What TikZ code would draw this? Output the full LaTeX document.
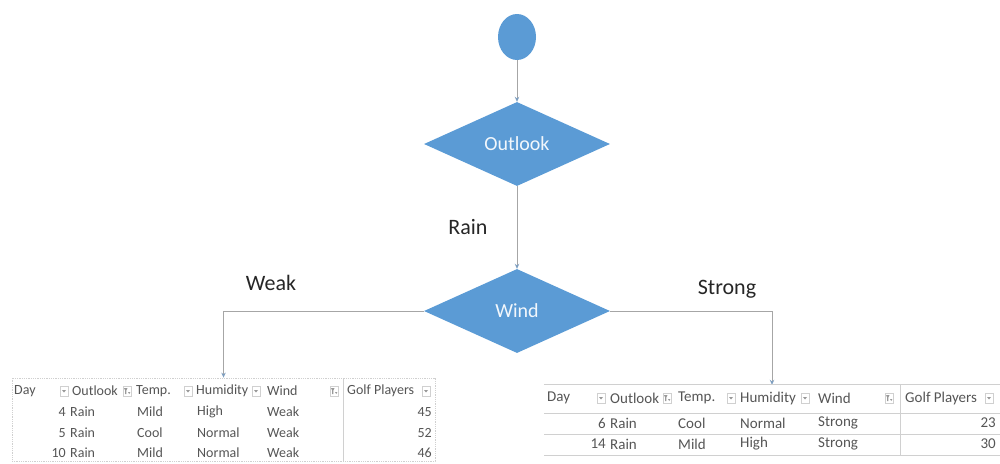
\documentclass[tikz,border=0pt]{standalone}
\usepackage{fontspec}
\setmainfont{Carlito}
\usetikzlibrary{shapes.geometric,arrows.meta}
\definecolor{officeblue}{HTML}{5B9BD5}
\definecolor{connc}{HTML}{A6A6A6}
\definecolor{tipc}{HTML}{7F9FC0}
\definecolor{tabtxt}{HTML}{555555}
\definecolor{tabline}{HTML}{D0D0D0}
\begin{document}
\begin{tikzpicture}[x=1pt,y=-1pt,
  decision/.style={diamond, fill=officeblue, draw=none, minimum width=186pt, minimum height=84pt, inner sep=0pt, text=white!92!officeblue, font=\fontsize{20}{24}\selectfont},
  startnode/.style={ellipse, fill=officeblue, draw=none, minimum width=38pt, minimum height=46pt, inner sep=0pt},
  conn/.style={draw=connc, line width=0.8pt, -{Stealth[length=5pt,width=4.5pt,color=tipc]}},
  edgelabel/.style={text=black!85, inner sep=0pt, font=\fontsize{22}{26}\selectfont},
  lcell/.style={anchor=west, inner sep=0pt, text=tabtxt, font=\fontsize{14}{16}\selectfont},
  rcell/.style={anchor=east, inner sep=0pt, text=tabtxt, font=\fontsize{14}{16}\selectfont},
  lcellR/.style={anchor=west, inner sep=0pt, text=tabtxt, font=\fontsize{15}{17}\selectfont},
  rcellR/.style={anchor=east, inner sep=0pt, text=tabtxt, font=\fontsize{15}{17}\selectfont},
  tabframe/.style={draw=tabline, densely dotted, line width=0.8pt, inner sep=0pt},
  tabrule/.style={draw=tabline, line width=0.8pt},
  ddbtn/.pic={\draw[tabline, fill=white, line width=0.5pt] (-4,-5) rectangle (4,5);
              \fill[gray!80] (-2,-1) -- (2,-1) -- (0,1.5) -- cycle;},
  filterbtn/.pic={\draw[tabline, fill=white, line width=0.5pt] (-4,-5) rectangle (4,5);
              \fill[gray!80] (-3,-3) -- (0.5,-3) -- (-0.7,-0.5) -- (-0.7,3) -- (-1.8,3) -- (-1.8,-0.5) -- cycle;
              \fill[gray!80] (1,1) -- (3.4,1) -- (2.2,3) -- cycle;}
]
\useasboundingbox (0,0) rectangle (1000,463);

% flowchart
\node[startnode] (start) at (517,37) {};
\node[decision] (outlook) at (517,144) {Outlook};
\node[decision] (wind) at (517,311) {Wind};

% tables (frames)
\node[tabframe, minimum width=423pt, minimum height=83pt] (lefttab) at (223.5,419.5) {};
\node[draw=none, inner sep=0pt, minimum width=456pt, minimum height=70pt] (righttab) at (772,420) {};

% connectors
\draw[conn] (start.south) -- (outlook.north);
\draw[conn] (outlook.south) -- (wind.north);
\draw[conn] (wind.west) -| (lefttab.north);
\draw[conn] (wind.east) -| (righttab.north);

% edge labels
\node[edgelabel] (lrain) at (468,227) {Rain};
\node[edgelabel] (lweak) at (271,283) {Weak};
\node[edgelabel] (lstrong) at (727,289) {Strong};

% ---------- left table ----------
\draw[tabrule] (343,378) -- (343,461);
\node[lcell] (lh1) at (14,391) {Day};
\node[lcell] (lh2) at (72,391) {Outlook};
\node[lcell] (lh3) at (136,391) {Temp.};
\node[lcell] (lh4) at (196,391) {Humidity};
\node[lcell] (lh5) at (267,391) {Wind};
\node[lcell] (lh6) at (347,391) {Golf Players};
\pic at (64,391) {ddbtn};
\pic at (127,391) {filterbtn};
\pic at (188,391) {ddbtn};
\pic at (256,391) {ddbtn};
\pic at (334,391) {filterbtn};
\pic at (426,391) {ddbtn};
\foreach \yy/\d/\t/\h/\w/\g [count=\i] in
  {412/4/Mild/High/Weak/45, 433/5/Cool/Normal/Weak/52, 453/10/Mild/Normal/Weak/46}{
  \node[rcell] (ld\i) at (66,\yy) {\d};
  \node[lcell] (lo\i) at (70,\yy) {Rain};
  \node[lcell] (lt\i) at (137,\yy) {\t};
  \node[lcell] (lu\i) at (197,\yy) {\h};
  \node[lcell] (lw\i) at (267,\yy) {\w};
  \node[rcell] (lg\i) at (432,\yy) {\g};
}

% ---------- right table ----------
\draw[tabrule] (righttab.north west) -- (righttab.north east);
\draw[tabrule] (544,413) -- (1000,413);
\draw[tabrule] (544,434) -- (1000,434);
\draw[tabrule] (544,455) -- (1000,455);
\draw[tabrule] (900,385) -- (900,455);
\node[lcellR] (rh1) at (547,398) {Day};
\node[lcellR] (rh2) at (610,398) {Outlook};
\node[lcellR] (rh3) at (678,398) {Temp.};
\node[lcellR] (rh4) at (740,398) {Humidity};
\node[lcellR] (rh5) at (818,398) {Wind};
\node[lcellR] (rh6) at (905,398) {Golf Players};
\pic at (601,398) {ddbtn};
\pic at (667,398) {filterbtn};
\pic at (731,398) {ddbtn};
\pic at (805,398) {ddbtn};
\pic at (889,398) {filterbtn};
\pic at (989,398) {ddbtn};
\foreach \yy/\d/\t/\h/\w/\g [count=\i] in
  {423/6/Cool/Normal/Strong/23, 444/14/Mild/High/Strong/30}{
  \node[rcellR] (rd\i) at (606,\yy) {\d};
  \node[lcellR] (ro\i) at (610,\yy) {Rain};
  \node[lcellR] (rt\i) at (678,\yy) {\t};
  \node[lcellR] (ru\i) at (740,\yy) {\h};
  \node[lcellR] (rw\i) at (818,\yy) {\w};
  \node[rcellR] (rg\i) at (996,\yy) {\g};
}
\end{tikzpicture}
\end{document}
